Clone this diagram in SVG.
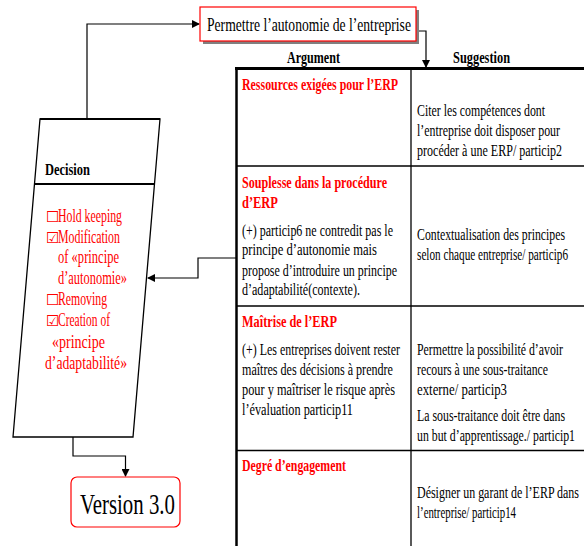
<svg xmlns="http://www.w3.org/2000/svg" width="584" height="546" viewBox="0 0 584 546">
<style>
text{font-family:"Liberation Serif","Times New Roman",serif;fill:#000}
.b{font-size:16px}
.h{font-size:16px;font-weight:bold}
.r{fill:#ff0000}
.ck{font-size:18px;fill:#ff0000}
.box{font-family:"DejaVu Sans",sans-serif;font-size:15px;fill:#ff0000}
.ln{stroke:#000;fill:none;stroke-width:1.2}
.tl{stroke:#000;stroke-width:1.3}
</style>
<defs>
<marker id="ah" markerWidth="8" markerHeight="8" refX="7" refY="4" orient="auto" markerUnits="userSpaceOnUse">
<path d="M0,0 L8,4 L0,8 Z" fill="#000"/>
</marker>
</defs>
<rect width="584" height="546" fill="#fff"/>

<g id="connectors">
<path class="ln" d="M87,119 V24 H199" marker-end="url(#ah)"/>
<path class="ln" d="M416,31 H426 V67" marker-end="url(#ah)"/>
<path class="ln" d="M236,258 H198 V278 H148" marker-end="url(#ah)"/>
<path class="ln" d="M73,437 V456 H125.5 V476" marker-end="url(#ah)"/>
</g>

<g id="goal">
<rect x="203" y="10" width="216" height="34" fill="#808080"/>
<rect x="200" y="7" width="216" height="34" fill="#fff" stroke="#ff0000" stroke-width="1.2"/>
<g transform="scale(0.72 1)">
<text x="287.5" y="31" font-size="19" textLength="283.3" lengthAdjust="spacingAndGlyphs">Permettre l’autonomie de l’entreprise</text>
</g>
</g>

<g id="decision">
<path d="M40,119 L160,119 L133,437 L13,437 Z" fill="#fff" stroke="#000" stroke-width="1.3"/>
<line x1="40" y1="119" x2="160" y2="119" stroke="#000" stroke-width="2"/>
<line x1="34.5" y1="184" x2="154.5" y2="184" stroke="#000" stroke-width="2"/>
<text class="box" x="46" y="222">☐</text>
<text class="box" x="46" y="243">☑</text>
<text class="box" x="46" y="305">☐</text>
<text class="box" x="46" y="326">☑</text>
<g transform="scale(0.72 1)">
<text class="h" x="62.5" y="175" textLength="62.5" lengthAdjust="spacingAndGlyphs">Decision</text>
<text class="ck" x="80.56" y="222" textLength="88.9" lengthAdjust="spacingAndGlyphs">Hold keeping</text>
<text class="ck" x="80.56" y="243" textLength="86.1" lengthAdjust="spacingAndGlyphs">Modification</text>
<text class="ck" x="80.56" y="263" textLength="84.7" lengthAdjust="spacingAndGlyphs">of «principe</text>
<text class="ck" x="80.56" y="284" textLength="95.8" lengthAdjust="spacingAndGlyphs">d’autonomie»</text>
<text class="ck" x="80.56" y="305" textLength="68.1" lengthAdjust="spacingAndGlyphs">Removing</text>
<text class="ck" x="80.56" y="326" textLength="72.2" lengthAdjust="spacingAndGlyphs">Creation of</text>
<text class="ck" x="72.22" y="348" textLength="73.6" lengthAdjust="spacingAndGlyphs">«principe</text>
<text class="ck" x="62.5" y="369" textLength="113.9" lengthAdjust="spacingAndGlyphs">d’adaptabilité»</text>
</g>
</g>

<g id="version">
<rect x="71" y="477" width="109" height="50" rx="6" fill="#fff" stroke="#ff0000" stroke-width="1.2"/>
<g transform="scale(0.72 1)">
<text x="111.1" y="514" font-size="30" textLength="131.9" lengthAdjust="spacingAndGlyphs">Version 3.0</text>
</g>
</g>

<g id="table">
<line x1="235" y1="68.5" x2="584" y2="68.5" stroke="#000" stroke-width="3"/>
<line x1="236.5" y1="67" x2="236.5" y2="546" stroke="#000" stroke-width="2.5"/>
<line class="tl" x1="411" y1="68" x2="411" y2="546"/>
<line class="tl" x1="236" y1="166" x2="584" y2="166"/>
<line class="tl" x1="236" y1="306" x2="584" y2="306"/>
<line class="tl" x1="236" y1="450.5" x2="584" y2="450.5"/>
<g transform="scale(0.72 1)">
<text class="h" x="398.6" y="63" textLength="73.6" lengthAdjust="spacingAndGlyphs">Argument</text>
<text class="h" x="629.2" y="63" textLength="79.2" lengthAdjust="spacingAndGlyphs">Suggestion</text>
</g>
</g>

<g id="row1">
<g transform="scale(0.72 1)">
<text class="h r" x="336.1" y="90" textLength="216.7" lengthAdjust="spacingAndGlyphs">Ressources exigées pour l’ERP</text>
<text class="b" x="579.2" y="116" textLength="177.8" lengthAdjust="spacingAndGlyphs">Citer les compétences dont</text>
<text class="b" x="579.2" y="136" textLength="198.6" lengthAdjust="spacingAndGlyphs">l’entreprise doit disposer pour</text>
<text class="b" x="579.2" y="156" textLength="201.4" lengthAdjust="spacingAndGlyphs">procéder à une ERP/ particip2</text>
</g>
</g>

<g id="row2">
<g transform="scale(0.72 1)">
<text class="h r" x="336.1" y="188" textLength="201.4" lengthAdjust="spacingAndGlyphs">Souplesse dans la procédure</text>
<text class="h r" x="336.1" y="208" textLength="50" lengthAdjust="spacingAndGlyphs">d’ERP</text>
<text class="b" x="336.1" y="236" textLength="209.7" lengthAdjust="spacingAndGlyphs">(+) particip6 ne contredit pas le</text>
<text class="b" x="336.1" y="255" textLength="187.5" lengthAdjust="spacingAndGlyphs">principe d’autonomie mais</text>
<text class="b" x="336.1" y="276" textLength="215.3" lengthAdjust="spacingAndGlyphs">propose d’introduire un principe</text>
<text class="b" x="336.1" y="295" textLength="163.9" lengthAdjust="spacingAndGlyphs">d’adaptabilité(contexte).</text>
<text class="b" x="579.2" y="240" textLength="205.6" lengthAdjust="spacingAndGlyphs">Contextualisation des principes</text>
<text class="b" x="579.2" y="260" textLength="209.7" lengthAdjust="spacingAndGlyphs">selon chaque entreprise/ particip6</text>
</g>
</g>

<g id="row3">
<g transform="scale(0.72 1)">
<text class="h r" x="336.1" y="327" textLength="131.9" lengthAdjust="spacingAndGlyphs">Maîtrise de l’ERP</text>
<text class="b" x="336.1" y="355" textLength="219.4" lengthAdjust="spacingAndGlyphs">(+) Les entreprises doivent rester</text>
<text class="b" x="336.1" y="375" textLength="209.7" lengthAdjust="spacingAndGlyphs">maîtres des décisions à prendre</text>
<text class="b" x="336.1" y="395" textLength="212.5" lengthAdjust="spacingAndGlyphs">pour y maîtriser le risque après</text>
<text class="b" x="336.1" y="415" textLength="154.2" lengthAdjust="spacingAndGlyphs">l’évaluation  particip11</text>
<text class="b" x="579.2" y="355" textLength="202.8" lengthAdjust="spacingAndGlyphs">Permettre la possibilité d’avoir</text>
<text class="b" x="579.2" y="375" textLength="181.9" lengthAdjust="spacingAndGlyphs">recours à une sous-traitance</text>
<text class="b" x="579.2" y="395" textLength="125" lengthAdjust="spacingAndGlyphs">externe/ particip3</text>
<text class="b" x="579.2" y="421" textLength="205.6" lengthAdjust="spacingAndGlyphs">La sous-traitance doit être dans</text>
<text class="b" x="579.2" y="441" textLength="219.4" lengthAdjust="spacingAndGlyphs">un but d’apprentissage./ particip1</text>
</g>
</g>

<g id="row4">
<g transform="scale(0.72 1)">
<text class="h r" x="336.1" y="471" textLength="144.4" lengthAdjust="spacingAndGlyphs">Degré d’engagement</text>
<text class="b" x="579.2" y="498" textLength="225" lengthAdjust="spacingAndGlyphs">Désigner un garant de l’ERP dans</text>
<text class="b" x="579.2" y="518" textLength="137.5" lengthAdjust="spacingAndGlyphs">l’entreprise/ particip14</text>
</g>
</g>
</svg>
